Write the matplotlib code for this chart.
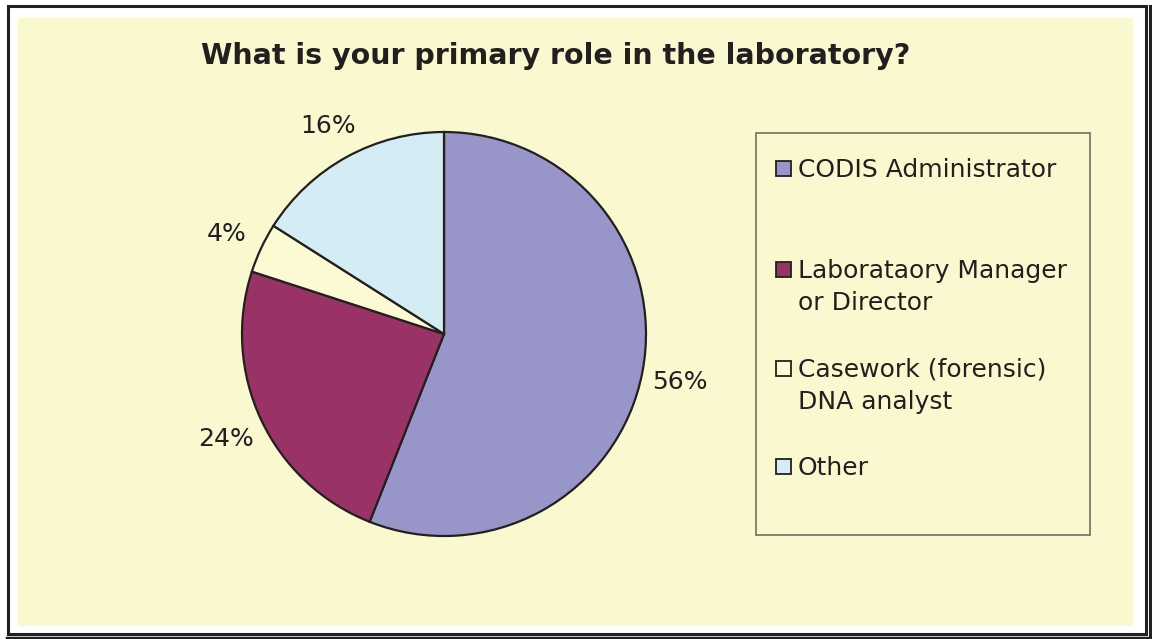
import matplotlib
matplotlib.use("Agg")
import matplotlib.pyplot as plt
from matplotlib.patches import Rectangle
from matplotlib.lines import Line2D

W, H = 1152, 639

title = "What is your primary role in the laboratory?"
legend_labels = ["CODIS Administrator", "Laborataory Manager\nor Director",
                 "Casework (forensic)\nDNA analyst", "Other"]
shares = [56, 24, 4, 16]
colors = ["#9896C9", "#993366", "#FCFAD2", "#D4ECF4"]

bg = "#FAF8CF"
ink = "#231F20"


def fx(x):
    return x / W


def fy(y):
    return 1 - y / H


fig = plt.figure(figsize=(W / 100, H / 100), dpi=100)
fig.patch.set_facecolor("white")

# yellow chart area + frame (drawn below the axes)
fig.add_artist(Rectangle((fx(18), fy(626)), (1133 - 18) / W, (626 - 18) / H,
                         transform=fig.transFigure, facecolor=bg, edgecolor="none",
                         zorder=-10))
fig.add_artist(Rectangle((fx(8), fy(634)), (1145.5 - 8) / W, (634 - 6) / H,
                         transform=fig.transFigure, facecolor="none",
                         edgecolor=ink, linewidth=2.2, zorder=-9))
fig.add_artist(Line2D([fx(1149.5), fx(1149.5)], [fy(6), fy(639)],
                      transform=fig.transFigure, color=ink, linewidth=2.2, zorder=-9))
fig.add_artist(Line2D([fx(7), fx(1152)], [fy(637.5), fy(637.5)],
                      transform=fig.transFigure, color=ink, linewidth=2.5, zorder=-9))

fig.text(fx(556), fy(56), title, ha="center", va="center",
         fontsize=20.5, fontweight="bold", color=ink)

# pie: center (444,334), r=202
cx, cy, r = 444, 334, 202
ax = fig.add_axes([fx(cx - r), fy(cy + r), 2 * r / W, 2 * r / H])
ax.set_facecolor("none")
wedges, texts = ax.pie(shares, colors=colors, startangle=90, counterclock=False,
                       labels=[f"{s}%" for s in shares], labeldistance=1.19,
                       wedgeprops=dict(edgecolor=ink, linewidth=1.6),
                       textprops=dict(fontsize=18, color=ink))
for t in texts:
    t.set_ha("center")
    t.set_va("center_baseline")
ax.set_xlim(-1, 1)
ax.set_ylim(-1, 1)
ax.set_aspect("equal")
ax.axis("off")

# legend box
fig.add_artist(Rectangle((fx(756), fy(535)), (1090 - 756) / W, (535 - 133) / H,
                         transform=fig.transFigure, facecolor="none",
                         edgecolor="#7A7A6A", linewidth=1.3))
baselines = [177, 278, 377, 475]
line_gap = 32
for lab, col, base in zip(legend_labels, colors, baselines):
    fig.add_artist(Rectangle((fx(776), fy(base - 1)), 15 / W, 15 / H,
                             transform=fig.transFigure, facecolor=col,
                             edgecolor=ink, linewidth=1.3))
    for i, line in enumerate(lab.split("\n")):
        fig.text(fx(798), fy(base + i * line_gap), line, ha="left", va="baseline",
                 fontsize=18, color=ink)

fig.savefig("out.png", dpi=100, facecolor=fig.get_facecolor())
